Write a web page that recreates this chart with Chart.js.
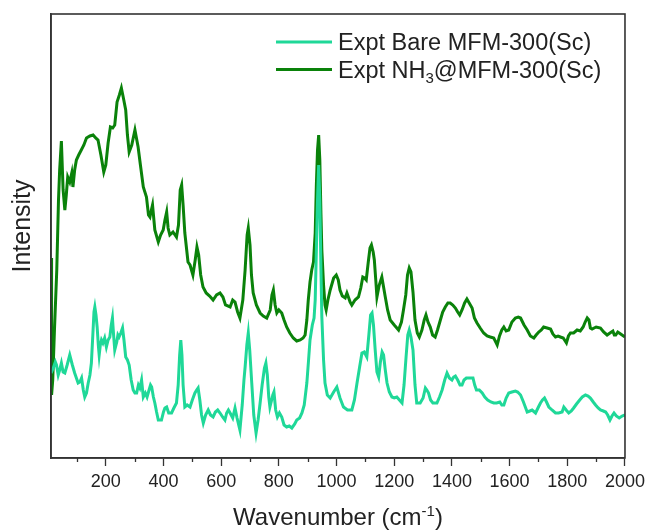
<!DOCTYPE html>
<html><head><meta charset="utf-8">
<script src="https://cdn.jsdelivr.net/npm/chart.js@4.4.1/dist/chart.umd.min.js"></script>
<style>html,body{margin:0;padding:0;background:#fff;}#wrap{width:650px;height:531px;}</style>
</head><body><div id="wrap"><canvas id="c" width="650" height="531"></canvas></div>
<script>
// ---- data (intensity in arbitrary units) ----
const bareWavenumber = [10,18,25,29,35,40,46,52,58,66,75,84,92,98,104,110,116,122,127,133,139,145,150,155,159,162,166,170,174,177,181,185,190,196,202,208,214,219,223,227,231,238,242,246,252,258,263,269,275,281,288,295,301,307,313,318,324,330,337,343,350,355,359,365,370,376,382,393,400,405,411,418,428,436,445,451,456,460,464,468,474,482,492,500,509,515,520,526,532,538,546,555,563,572,580,588,596,605,613,619,625,631,640,648,655,665,673,679,683,689,694,699,706,713,721,728,735,742,750,755,760,765,769,775,779,783,789,795,802,810,818,827,836,845,855,862,872,880,888,897,903,908,916,922,926,930,934,938,942,946,949,955,960,968,978,990,1001,1012,1024,1038,1053,1062,1071,1080,1088,1096,1105,1112,1118,1123,1128,1134,1140,1146,1152,1158,1163,1169,1175,1183,1192,1200,1209,1218,1227,1234,1241,1247,1252,1258,1265,1272,1278,1290,1300,1308,1313,1319,1326,1334,1348,1357,1366,1375,1383,1391,1400,1406,1412,1420,1428,1435,1442,1450,1462,1473,1479,1485,1495,1505,1514,1524,1535,1545,1555,1566,1573,1580,1588,1597,1608,1620,1628,1638,1648,1661,1670,1678,1690,1700,1707,1714,1721,1728,1736,1747,1759,1770,1782,1788,1796,1805,1814,1822,1832,1843,1852,1863,1872,1880,1890,1898,1907,1915,1925,1933,1940,1948,1955,1962,1970,1980,1990,2000];
const bareIntensity = [85,90,96,93,83,88,95,86,85,93,103,93,85,80,75,76,80,68,61,65,75,83,95,123,146,151,143,131,113,103,113,118,115,120,111,118,121,133,140,123,108,116,123,121,125,130,118,101,98,93,78,68,65,65,73,70,78,61,65,61,68,73,71,61,55,46,38,38,46,50,51,45,45,50,55,73,103,118,103,73,51,53,51,58,65,68,70,58,43,35,43,48,43,41,46,48,45,41,38,45,48,45,40,50,40,28,53,78,91,113,125,108,75,43,25,38,55,73,90,95,83,61,51,58,63,66,48,41,45,41,33,31,32,30,34,38,40,45,53,75,98,118,133,140,158,208,258,293,258,188,141,98,75,63,60,66,71,60,51,48,48,58,75,91,105,106,101,123,143,145,133,108,86,81,96,106,103,88,75,66,61,60,61,58,55,73,101,123,128,121,108,73,55,55,60,70,68,65,58,55,55,61,68,78,85,80,78,81,82,78,73,73,78,80,80,80,73,68,68,65,61,58,56,55,55,56,53,53,60,65,66,67,66,63,56,46,47,48,45,51,55,58,60,56,51,48,45,45,46,51,48,45,47,50,54,58,61,63,62,60,56,53,50,48,47,46,43,38,42,45,42,40,42,43];
const nh3Wavenumber = [10,12,16,22,30,36,40,46,52,58,63,68,75,82,86,92,98,106,115,124,133,145,156,165,173,183,193,200,208,216,224,231,239,247,254,261,269,275,281,290,301,312,320,330,341,348,353,358,362,370,382,390,399,405,411,416,422,433,445,452,458,463,468,474,485,492,502,510,516,522,529,537,548,560,572,584,596,606,615,631,640,648,657,665,675,683,690,694,700,705,711,722,735,746,758,770,776,781,787,793,800,810,818,827,838,850,862,874,884,891,897,902,908,914,920,926,930,934,938,942,946,949,955,960,964,970,978,990,999,1006,1012,1020,1030,1036,1041,1047,1053,1064,1076,1084,1091,1097,1103,1110,1116,1121,1127,1131,1136,1140,1148,1157,1163,1169,1177,1186,1200,1215,1225,1232,1240,1246,1252,1258,1265,1272,1280,1287,1296,1304,1310,1317,1325,1333,1342,1350,1360,1368,1377,1386,1394,1403,1412,1420,1427,1435,1444,1452,1460,1470,1478,1487,1498,1510,1522,1533,1545,1552,1557,1565,1573,1580,1588,1597,1608,1620,1630,1638,1650,1661,1672,1684,1692,1701,1710,1718,1730,1742,1750,1759,1768,1776,1786,1797,1804,1811,1822,1834,1845,1855,1862,1869,1875,1880,1886,1900,1915,1926,1938,1948,1958,1963,1968,1975,1980,1990,2000];
const nh3Intensity = [200,63,78,128,188,258,288,317,268,248,263,281,276,285,271,288,298,303,308,313,320,322,323,320,318,303,286,293,315,331,330,333,356,363,370,360,348,323,306,313,328,311,293,271,261,243,241,248,253,228,216,223,228,238,246,230,223,226,221,233,268,273,253,225,196,193,183,198,211,203,183,171,165,162,158,163,165,161,153,151,158,156,146,140,158,188,223,230,213,183,165,153,145,142,140,148,163,168,153,145,148,145,138,131,125,120,117,118,120,123,138,158,176,188,196,225,273,308,323,298,243,208,173,153,148,158,168,180,183,178,168,162,160,165,161,156,153,158,161,170,181,180,178,196,210,213,206,198,178,161,173,181,171,161,148,138,133,128,136,148,163,183,190,186,166,138,125,121,128,138,143,136,131,123,121,128,138,146,151,155,155,153,150,146,143,148,155,159,155,150,140,135,130,125,122,121,120,116,113,122,128,131,127,128,136,140,141,140,133,128,122,120,123,126,128,131,130,129,124,121,122,121,120,115,122,125,125,128,127,131,136,140,138,130,129,131,130,126,123,125,127,123,123,126,125,123,121];
const xTickValues = [200,400,600,800,1000,1200,1400,1600,1800,2000];
const xMinorTickValues = [100,300,500,700,900,1100,1300,1500,1700,1900];
const seriesLabels = ['Expt Bare MFM-300(Sc)', 'Expt NH\u2083@MFM-300(Sc)'];
const seriesColors = ['#1fd898', '#0a820a'];
const xTitle = 'Wavenumber (cm\u207B\u00B9)';
const yTitle = 'Intensity';

const FONT = "'Liberation Sans', Arial, sans-serif";
const AXIS = '#333333';

function toPoints(xs, ys){ return xs.map((x,i)=>({x:x, y:ys[i]})); }

const SUB = {'\u2080':'0','\u2081':'1','\u2082':'2','\u2083':'3','\u2084':'4'};
const SUP = {'\u207B':'-','\u00B9':'1','\u00B2':'2','\u00B3':'3'};
function segments(text){
  const out=[];
  for(const ch of text){
    let kind='n', c=ch;
    if(SUB[ch]!==undefined){kind='sub';c=SUB[ch];}
    else if(SUP[ch]!==undefined){kind='sup';c=SUP[ch];}
    if(out.length && out[out.length-1].kind===kind) out[out.length-1].t+=c; else out.push({kind:kind,t:c});
  }
  return out;
}
function drawRich(ctx, text, x, yCenter, size, align){
  const segs = segments(text);
  const small = Math.round(size*0.62);
  let w=0;
  segs.forEach(s=>{ ctx.font = (s.kind==='n'?size:small)+'px '+FONT; s.w = ctx.measureText(s.t).width; w+=s.w; });
  let cx = align==='center' ? x - w/2 : x;
  const base = yCenter + size*0.36;
  ctx.textBaseline='alphabetic'; ctx.textAlign='left';
  segs.forEach(s=>{
    ctx.font = (s.kind==='n'?size:small)+'px '+FONT;
    let by = base;
    if(s.kind==='sub') by = base + size*0.2;
    if(s.kind==='sup') by = base - size*0.38;
    ctx.fillText(s.t, cx, by);
    cx += s.w;
  });
}

const decorPlugin = {
  id:'decor',
  afterDraw(chart){
    const ctx = chart.ctx, a = chart.chartArea, xs = chart.scales.x;
    ctx.save();
    ctx.strokeStyle = AXIS; ctx.lineWidth = 1.6;
    ctx.strokeRect(a.left, a.top, a.right-a.left, a.bottom-a.top);
    ctx.lineWidth = 1.3;
    xMinorTickValues.forEach(v=>{
      const px = Math.round(xs.getPixelForValue(v))+0.5;
      ctx.beginPath(); ctx.moveTo(px, a.bottom); ctx.lineTo(px, a.bottom+4); ctx.stroke();
    });
    ctx.fillStyle = '#222';
    drawRich(ctx, xTitle, (a.left+a.right)/2, 516, 24, 'center');
    ctx.save();
    ctx.translate(21, 226); ctx.rotate(-Math.PI/2);
    drawRich(ctx, yTitle, 0, 0, 25, 'center');
    ctx.restore();
    chart.data.datasets.forEach((ds,i)=>{
      const y = 42 + i*27.5;
      ctx.strokeStyle = ds.borderColor; ctx.lineWidth = 3;
      ctx.beginPath(); ctx.moveTo(276, y); ctx.lineTo(332, y); ctx.stroke();
      ctx.fillStyle = '#222';
      drawRich(ctx, ds.label, 338, y, 23.5, 'left');
    });
    ctx.restore();
  }
};

new Chart(document.getElementById('c'), {
  type:'line',
  data:{ datasets:[
    { label: seriesLabels[0], data: toPoints(bareWavenumber, bareIntensity), borderColor: seriesColors[0], borderWidth: 3, pointRadius: 0, tension: 0, fill:false },
    { label: seriesLabels[1], data: toPoints(nh3Wavenumber, nh3Intensity), borderColor: seriesColors[1], borderWidth: 3, pointRadius: 0, tension: 0, fill:false }
  ]},
  options:{
    responsive:false, animation:false, devicePixelRatio:1,
    layout:{ padding:{ top:14, right:25, left:0, bottom:0 } },
    plugins:{ legend:{display:false}, tooltip:{enabled:false} },
    scales:{
      x:{ type:'linear', min:10, max:2000,
        afterBuildTicks(s){ s.ticks = xTickValues.map(v=>({value:v})); },
        afterFit(s){ s.height = 73; },
        ticks:{ font:{family:FONT, size:18}, color:'#222', padding:5, maxRotation:0, autoSkip:false, callback:(v)=>String(v) },
        grid:{ drawOnChartArea:false, drawTicks:true, tickLength:8, tickColor:AXIS, tickWidth:1.3 },
        border:{ color:AXIS, width:1.6 }
      },
      y:{ min:0, max:444,
        afterFit(s){ s.width = 51; },
        ticks:{ display:false },
        grid:{ drawOnChartArea:false, drawTicks:false },
        border:{ color:AXIS, width:1.6 }
      }
    }
  },
  plugins:[decorPlugin]
});
</script></body></html>
